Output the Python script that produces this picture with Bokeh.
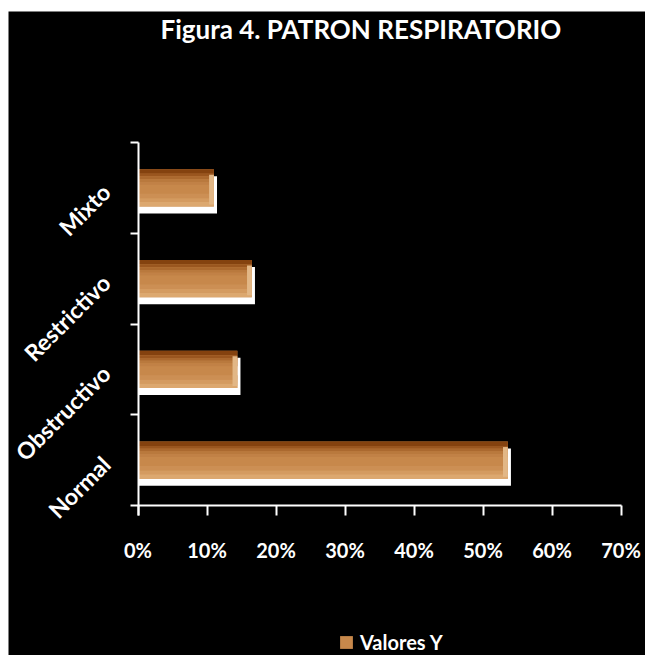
import math
from bokeh.plotting import figure
from bokeh.models import (ColumnDataSource, FixedTicker, PrintfTickFormatter,
                          Legend, LegendItem, Range1d, Label)
from bokeh.transform import dodge
from bokeh.embed import file_html
from bokeh.resources import INLINE

# ---- data ----
categories = ["Normal", "Obstructivo", "Restrictivo", "Mixto"]
values = [53.6, 14.4, 16.5, 11.0]          # percent
x_ticks = [0, 10, 20, 30, 40, 50, 60, 70]
x_max = 70
series_name = "Valores Y"
title_text = "Figura 4.  PATRON RESPIRATORIO"

FONT = "Lato"

# ---- layout (pixels) ----
W, HGT = 637, 644            # canvas size (page margin 8 left, 11 top)
AX_LEFT, AX_RIGHT = 129.5, 612.5   # x of 0% and 70% inside canvas
AX_TOP, AX_BOTTOM = 131, 494       # y of top category edge and of the x axis
px_x = (AX_RIGHT - AX_LEFT) / x_max
n = len(categories)
px_y = (AX_BOTTOM - AX_TOP) / n

ypos = [i + 0.5 for i in range(n)]
src = ColumnDataSource(dict(
    y=ypos,
    v=values,
    shadow_r=[v + 0.45 for v in values],
    bevel_l=[max(v - 0.7, 0) for v in values],
))

x_range = Range1d(-AX_LEFT / px_x, x_max + (W - AX_RIGHT) / px_x)
y_range = Range1d(-(HGT - AX_BOTTOM) / px_y, n + AX_TOP / px_y)

p = figure(frame_width=W, frame_height=HGT,
           min_border_left=0, min_border_right=0,
           min_border_top=0, min_border_bottom=0,
           x_range=x_range, y_range=y_range,
           output_backend="svg", toolbar_location=None,
           background_fill_color="black", border_fill_color="black",
           outline_line_color=None)
p.margin = (11, 0, 0, 8)
p.grid.visible = False

H = 0.41
# white drop shadow
p.hbar(y=dodge("y", -0.077, range=p.y_range), left=0, right="shadow_r", height=H,
       source=src, fill_color="white", line_color=None)
# gradient face layers (top dark -> bottom light)
layers = [
    (0.0, H, "#c7884b"),
    (H / 2 - 0.025, 0.05, "#84420f"),
    (H / 2 - 0.065, 0.03, "#9a561f"),
    (H / 2 - 0.095, 0.03, "#ab692f"),
    (H / 2 - 0.125, 0.03, "#b9793d"),
    (H / 2 - 0.155, 0.03, "#c18146"),
    (-H / 2 + 0.115, 0.05, "#cc8f54"),
    (-H / 2 + 0.07, 0.04, "#d49b60"),
    (-H / 2 + 0.025, 0.05, "#dca86f"),
]
r_main = None
for off, h, col in layers:
    r = p.hbar(y=dodge("y", off, range=p.y_range), left=0, right="v", height=h,
               source=src, fill_color=col, line_color=None)
    if r_main is None:
        r_main = r
# right-end bevel
p.hbar(y=dodge("y", -0.02, range=p.y_range), left="bevel_l", right="v", height=H * 0.8,
       source=src, fill_color="#e2b786", line_color=None)

# x axis (fixed at y = 0)
xa = p.xaxis[0]
xa.fixed_location = 0
xa.bounds = (0, x_max)
xa.ticker = FixedTicker(ticks=x_ticks, minor_ticks=[])
xa.formatter = PrintfTickFormatter(format="%d%%")
xa.axis_line_color = "white"
xa.axis_line_width = 2
xa.major_tick_line_color = "white"
xa.major_tick_line_width = 2
xa.major_tick_in = 0
xa.major_tick_out = 10
xa.major_label_standoff = 22
xa.major_label_text_color = "white"
xa.major_label_text_font = FONT
xa.major_label_text_font_style = "bold"
xa.major_label_text_font_size = "20px"

# y axis (fixed at x = 0): labels at band centers, ticks at band edges
ya = p.yaxis[0]
ya.fixed_location = 0
ya.bounds = (-0.11, n)
ya.ticker = FixedTicker(ticks=ypos, minor_ticks=list(range(n + 1)))
ya.major_label_overrides = {y: c for y, c in zip(ypos, categories)}
ya.major_label_orientation = math.pi / 4
ya.axis_line_color = "white"
ya.axis_line_width = 2
ya.major_tick_line_color = None
ya.minor_tick_line_color = "white"
ya.minor_tick_line_width = 2
ya.minor_tick_in = 0
ya.minor_tick_out = 8
ya.major_label_standoff = 24
ya.major_label_text_color = "white"
ya.major_label_text_font = FONT
ya.major_label_text_font_style = "bold"
ya.major_label_text_font_size = "23px"

# title
title = Label(x=(152 - AX_LEFT) / px_x, y=n + (AX_TOP - 1) / px_y,
              text=title_text, text_color="white", text_font=FONT,
              text_font_style="bold", text_font_size="26px",
              text_baseline="top", text_align="left")
p.add_layout(title)

legend = Legend(items=[LegendItem(label=series_name, renderers=[r_main])],
                location=(330, 1), orientation="horizontal",
                background_fill_alpha=0, border_line_color=None,
                label_text_color="white", label_text_font=FONT,
                label_text_font_style="bold", label_text_font_size="20px",
                label_height=18, glyph_width=16, glyph_height=16,
                padding=0, margin=0, label_standoff=6)
p.add_layout(legend, "center")

open("out.html", "w").write(file_html(p, INLINE))
